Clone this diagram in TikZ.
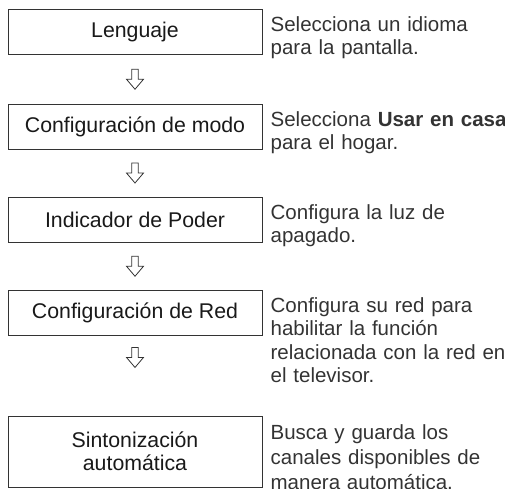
\documentclass[tikz,border=0pt]{standalone}
\usepackage{fontspec}
\setmainfont{Liberation Sans}
\usetikzlibrary{positioning}
\tikzset{
  paso/.style={draw=black!80, line width=0.9pt, minimum width=254pt, minimum height=45pt, inner sep=0pt, align=center, text=black!90, font=\fontsize{21.3}{23.3}\selectfont},
  desc/.style={anchor=base west, inner sep=0pt, align=left, text width=250pt, text=black!80},
  flecha/.pic={\draw[black!80, line width=0.8pt, line join=miter] (-3.2,10) -- (3.2,10) -- (3.2,0) -- (8.5,0) -- (0,-10) -- (-8.5,0) -- (-3.2,0) -- cycle;}
}
\begin{document}
\begin{tikzpicture}[x=1pt,y=1pt,every node/.style={font=\fontsize{20.5}{23.3}\selectfont}]
\useasboundingbox (0,0) rectangle (505,-488);
\clip (0,0) rectangle (505,-488);
% pasos
\node[paso] (lengua) at (135,-32) {Lenguaje};
\node[paso] (modo) at (135,-126.5) {Configuración de modo};
\node[paso] (poder) at (135,-219.5) {Indicador de Poder};
\node[paso] (red) at (135,-313) {Configuración de Red};
\node[paso, minimum height=71pt] (sinto) at (135,-451.5) {Sintonización\\automática};
% descripciones
\node[desc] (dlengua) at ([xshift=8pt,yshift=-22.5pt]lengua.north east) {Selecciona un idioma\\para la pantalla.};
\node[desc] (dmodo) at ([xshift=8pt,yshift=-22.5pt]modo.north east) {Selecciona \textbf{Usar en casa}\\para el hogar.};
\node[desc] (dpoder) at ([xshift=8pt,yshift=-22.5pt]poder.north east) {Configura la luz de\\apagado.};
\node[desc] (dred) at ([xshift=8pt,yshift=-22.5pt]red.north east) {Configura su red para\\habilitar la función\\relacionada con la red en\\el televisor.};
\node[desc, font=\fontsize{20.5}{25}\selectfont] (dsinto) at ([xshift=8pt,yshift=-24pt]sinto.north east) {Busca y guarda los\\canales disponibles de\\manera automática.};
% flechas
\foreach \a/\b/\p in {lengua/modo/0.5, modo/poder/0.5, poder/red/0.5, red/sinto/0.27}{
  \path (\a.south) -- (\b.north) coordinate[pos=\p] (f);
  \pic at (f) {flecha};
}
\end{tikzpicture}
\end{document}
